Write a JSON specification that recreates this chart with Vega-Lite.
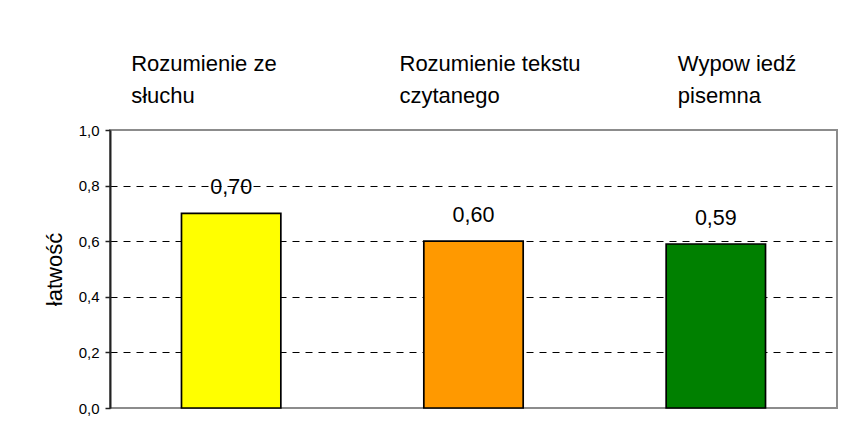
{
  "$schema": "https://vega.github.io/schema/vega-lite/v6.json",
  "width": 727,
  "height": 278,
  "autosize": {"type": "none"},
  "padding": {"left": 110, "top": 130, "right": 24, "bottom": 31},
  "background": "white",
  "config": {
    "font": "Liberation Sans",
    "locale": {"number": {"decimal": ",", "thousands": " ", "grouping": [3], "currency": ["", " zł"]}},
    "view": {"stroke": "#8c8c8c", "strokeWidth": 2},
    "axis": {"labelColor": "black", "titleColor": "black", "labelFont": "Liberation Sans", "titleFont": "Liberation Sans"}
  },
  "data": {
    "values": [
      {"kategoria": "Rozumienie ze słuchu", "latwosc": 0.70},
      {"kategoria": "Rozumienie tekstu czytanego", "latwosc": 0.60},
      {"kategoria": "Wypow iedź pisemna", "latwosc": 0.59}
    ]
  },
  "encoding": {
    "x": {
      "field": "kategoria",
      "type": "nominal",
      "sort": null,
      "scale": {"paddingInner": 0.59, "paddingOuter": 0.295},
      "axis": {
        "orient": "top",
        "title": null,
        "domain": false,
        "ticks": false,
        "tickSize": 0,
        "labelAngle": 0,
        "labelAlign": "left",
        "labelBaseline": "bottom",
        "labelFontSize": 22,
        "labelLineHeight": 32,
        "labelPadding": 55,
        "labelLimit": 400,
        "labelExpr": "[slice(datum.label, 0, lastindexof(datum.label, ' ')), slice(datum.label, lastindexof(datum.label, ' ') + 1)]",
        "labelOffset": {
          "condition": [
            {"test": "datum.value == 'Rozumienie ze słuchu'", "value": -100},
            {"test": "datum.value == 'Rozumienie tekstu czytanego'", "value": -74}
          ],
          "value": -38
        }
      }
    },
    "y": {
      "field": "latwosc",
      "type": "quantitative",
      "scale": {"domain": [0, 1], "nice": false},
      "axis": {
        "title": "łatwość",
        "titleFontSize": 22,
        "titleFontWeight": "normal",
        "titlePadding": 12,
        "values": [0, 0.2, 0.4, 0.6, 0.8, 1.0],
        "format": ".1f",
        "labelFontSize": 15,
        "labelPadding": 6,
        "tickSize": 5,
        "tickColor": "#222",
        "tickWidth": 1.5,
        "domainColor": "#222",
        "domainWidth": 2,
        "grid": true,
        "gridColor": "black",
        "gridWidth": 1,
        "gridDash": [7, 6],
        "gridOpacity": {"condition": {"test": "datum.value < 0.01 || datum.value > 0.99", "value": 0}, "value": 1}
      }
    }
  },
  "layer": [
    {
      "mark": {"type": "bar", "stroke": "black", "strokeWidth": 1.7},
      "encoding": {
        "color": {
          "field": "kategoria",
          "type": "nominal",
          "scale": {
            "domain": ["Rozumienie ze słuchu", "Rozumienie tekstu czytanego", "Wypow iedź pisemna"],
            "range": ["#ffff00", "#ff9900", "#008000"]
          },
          "legend": null
        }
      }
    },
    {
      "mark": {"type": "text", "baseline": "alphabetic", "dy": -19, "fontSize": 21.5, "color": "black", "font": "Liberation Sans"},
      "encoding": {
        "text": {"field": "latwosc", "type": "quantitative", "format": ".2f"}
      }
    }
  ]
}
